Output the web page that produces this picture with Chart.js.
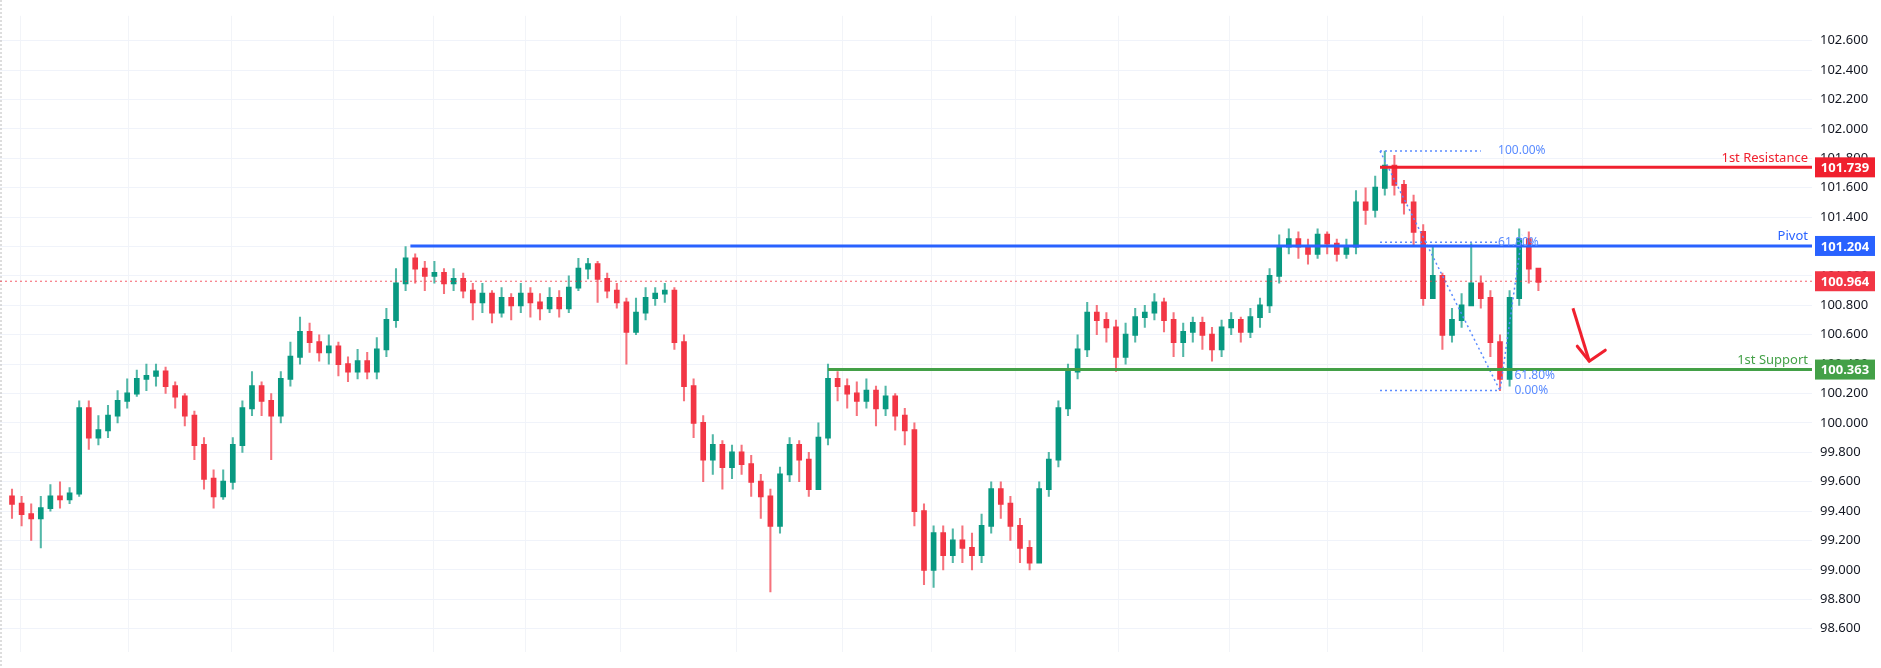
<!DOCTYPE html>
<html>
<head>
<meta charset="utf-8">
<script src="https://cdn.jsdelivr.net/npm/chart.js@4/dist/chart.umd.min.js"></script>
<style>
  html, body { margin: 0; padding: 0; background: #fff; }
  #wrap { width: 1881px; height: 668px; position: relative; }
</style>
</head>
<body>
<div id="wrap"><canvas id="c"></canvas></div>
<script>
// Candles: open is the previous close (first one given separately).
const FIRST_OPEN = 99.5;
const closes = [
  99.45,99.38,99.35,99.42,99.5,99.48,99.52,100.1,99.9,99.95,
  100.05,100.15,100.2,100.3,100.32,100.35,100.25,100.18,100.05,99.85,
  99.62,99.5,99.6,99.85,100.1,100.25,100.15,100.05,100.3,100.45,
  100.62,100.55,100.48,100.52,100.4,100.35,100.42,100.35,100.5,100.7,
  100.95,101.12,101.05,101.0,101.02,100.95,100.98,100.9,100.82,100.88,
  100.75,100.85,100.8,100.88,100.82,100.78,100.85,100.78,100.92,101.05,
  101.08,100.98,100.9,100.82,100.62,100.75,100.85,100.88,100.9,100.55,
  100.25,100.0,99.75,99.85,99.7,99.8,99.72,99.6,99.5,99.3,
  99.65,99.85,99.75,99.55,99.9,100.3,100.25,100.2,100.15,100.22,
  100.1,100.18,100.05,99.95,99.4,99.0,99.25,99.1,99.2,99.15,
  99.1,99.3,99.55,99.45,99.3,99.15,99.05,99.55,99.75,100.1,
  100.35,100.5,100.75,100.7,100.65,100.45,100.6,100.72,100.75,100.82,
  100.7,100.55,100.62,100.68,100.6,100.5,100.65,100.7,100.62,100.72,
  100.8,101.0,101.2,101.25,101.2,101.15,101.28,101.22,101.15,101.2,
  101.5,101.45,101.6,101.75,101.62,101.5,101.3,100.85,101.0,100.6,
  100.7,100.8,100.95,100.85,100.55,100.3,100.85,101.25,101.05,100.96
];
const highs = [
  99.55,99.5,99.45,99.5,99.58,99.6,99.56,100.15,100.15,100.05,
  100.12,100.22,100.3,100.36,100.4,100.4,100.38,100.28,100.2,100.08,
  99.9,99.68,99.68,99.9,100.15,100.35,100.28,100.2,100.35,100.55,
  100.72,100.68,100.6,100.6,100.55,100.45,100.5,100.48,100.58,100.78,
  101.05,101.2,101.15,101.1,101.1,101.05,101.05,101.02,100.95,100.95,
  100.9,100.92,100.88,100.95,100.92,100.88,100.92,100.9,101.0,101.12,
  101.12,101.1,101.02,100.95,100.85,100.85,100.92,100.92,100.95,100.92,
  100.6,100.3,100.05,99.92,99.88,99.85,99.85,99.78,99.65,99.55,
  99.7,99.9,99.88,99.8,100.0,100.4,100.35,100.3,100.28,100.3,
  100.25,100.25,100.2,100.1,100.0,99.45,99.3,99.3,99.28,99.3,
  99.25,99.38,99.6,99.6,99.5,99.35,99.2,99.6,99.8,100.15,
  100.4,100.6,100.82,100.8,100.75,100.7,100.68,100.78,100.8,100.88,
  100.85,100.75,100.68,100.72,100.72,100.65,100.7,100.75,100.72,100.78,
  100.85,101.05,101.28,101.32,101.3,101.25,101.32,101.3,101.25,101.25,
  101.58,101.6,101.68,101.85,101.82,101.65,101.55,101.35,101.2,101.02,
  100.78,100.88,101.22,101.0,100.9,100.6,100.9,101.32,101.3,101.05
];
const lows = [
  99.35,99.3,99.2,99.15,99.4,99.42,99.45,99.5,99.82,99.85,
  99.9,100.0,100.1,100.18,100.22,100.25,100.2,100.1,99.98,99.75,
  99.55,99.42,99.48,99.55,99.8,100.05,100.05,99.75,100.0,100.25,
  100.4,100.48,100.42,100.4,100.32,100.28,100.3,100.3,100.3,100.45,
  100.65,100.9,100.95,100.9,100.95,100.88,100.9,100.85,100.7,100.75,
  100.68,100.72,100.7,100.75,100.72,100.7,100.75,100.72,100.75,100.9,
  100.98,100.82,100.85,100.78,100.4,100.6,100.7,100.8,100.82,100.5,
  100.15,99.9,99.6,99.65,99.55,99.62,99.65,99.5,99.35,98.85,
  99.25,99.6,99.6,99.5,99.55,99.85,100.15,100.1,100.05,100.1,
  99.98,100.05,99.95,99.85,99.3,98.9,98.88,99.0,99.05,99.05,
  99.0,99.05,99.25,99.35,99.2,99.05,99.0,99.05,99.5,99.7,
  100.05,100.3,100.45,100.6,100.55,100.35,100.4,100.55,100.65,100.7,
  100.62,100.45,100.45,100.55,100.5,100.42,100.45,100.6,100.55,100.58,
  100.65,100.75,100.95,101.15,101.12,101.08,101.12,101.15,101.1,101.12,
  101.15,101.35,101.4,101.55,101.55,101.42,101.2,100.8,100.85,100.5,
  100.55,100.65,100.85,100.78,100.45,100.22,100.25,100.8,100.95,100.9
];
const priceTicks = [98.6,98.8,99.0,99.2,99.4,99.6,99.8,100.0,100.2,100.4,100.6,100.8,101.0,101.2,101.4,101.6,101.8,102.0,102.2,102.4,102.6];
// vertical grid (session boundaries) in candle-index units
const timeGrid = [6.5,17.75,27.9,39,48.9,58.1,68.75,82.1,91,100.6,108.5,122.1,131.6,142.5,151.25,159.5];

const RESISTANCE = 101.739, PIVOT = 101.204, LAST = 100.964, SUPPORT = 100.363;
const FIB_HIGH = 101.85, FIB_LOW = 100.22, FIB_618 = 101.23;
const X_MIN = -1.25, X_MAX = 187.5;
const arrowFrom = { x: 162.6, y: 100.78 }, arrowTo = { x: 164.3, y: 100.42 };

const UP = "#089981", DOWN = "#f23645";
const opens = closes.map((c, i) => i === 0 ? FIRST_OPEN : closes[i - 1]);
const colors = closes.map((c, i) => c >= opens[i] ? UP : DOWN);
const bodies = closes.map((c, i) => ({ x: i, y: [Math.min(c, opens[i]) - 0.004, Math.max(c, opens[i]) + 0.004] }));
const wicks = closes.map((c, i) => ({ x: i, y: [lows[i], highs[i]] }));

function hline(y, x0, color, width, dash) {
  return { type: "line", data: [{ x: x0, y }, { x: X_MAX, y }], borderColor: color, borderWidth: width,
    borderDash: dash || [], pointRadius: 0, order: 0 };
}

const overlay = {
  id: "overlay",
  beforeDatasetsDraw(ch) {
    const { ctx } = ch;
    ctx.save();
    ctx.strokeStyle = "#bbb"; ctx.setLineDash([2, 2]); ctx.lineWidth = 1;
    ctx.beginPath(); ctx.moveTo(1, 0); ctx.lineTo(1, 668); ctx.stroke();
    ctx.restore();
  },
  afterDatasetsDraw(ch) {
    const { ctx, scales: { x, y }, chartArea: a } = ch;
    ctx.save();
    // arrow head
    const tx = x.getPixelForValue(arrowTo.x), ty = y.getPixelForValue(arrowTo.y);
    ctx.strokeStyle = "#f0202e"; ctx.lineWidth = 3; ctx.lineCap = "round";
    ctx.beginPath(); ctx.moveTo(tx - 12, ty - 15); ctx.lineTo(tx, ty); ctx.lineTo(tx + 16, ty - 11); ctx.stroke();

    ctx.font = "13px 'Noto Sans', sans-serif";
    ctx.textAlign = "right"; ctx.textBaseline = "bottom";
    const tr = a.right - 4;
    ctx.fillStyle = "#f0202e"; ctx.fillText("1st Resistance", tr, y.getPixelForValue(RESISTANCE) - 3);
    ctx.fillStyle = "#2962ff"; ctx.fillText("Pivot", tr, y.getPixelForValue(PIVOT) - 3);
    ctx.fillStyle = "#43a047"; ctx.fillText("1st Support", tr, y.getPixelForValue(SUPPORT) - 3);

    ctx.font = "12px 'Noto Sans', sans-serif"; ctx.textAlign = "left"; ctx.textBaseline = "middle";
    ctx.fillStyle = "#5b8cff";
    const fx = x.getPixelForValue(154.8);
    ctx.fillText("100.00%", fx, y.getPixelForValue(FIB_HIGH));
    ctx.fillText("61.80%", fx, y.getPixelForValue(FIB_618));
    ctx.fillText("61.80%", x.getPixelForValue(156.5), y.getPixelForValue(100.32));
    ctx.fillText("0.00%", x.getPixelForValue(156.5), y.getPixelForValue(FIB_LOW));

    // right-axis price tags
    const tags = [[RESISTANCE, "#f0202e"], [PIVOT, "#2962ff"], [LAST, "#f23645"], [SUPPORT, "#43a047"]];
    ctx.font = "bold 13px 'Noto Sans', sans-serif"; ctx.textAlign = "center";
    for (const [v, c] of tags) {
      const py = y.getPixelForValue(v);
      ctx.fillStyle = c;
      ctx.fillRect(a.right + 3, py - 10, 60, 20);
      ctx.fillStyle = "#fff";
      ctx.fillText(v.toFixed(3), a.right + 33, py + 1);
    }
    ctx.restore();
  }
};

new Chart(document.getElementById("c"), {
  data: {
    datasets: [
      { type: "bar", data: wicks, backgroundColor: colors.map(c => c === UP ? "rgba(8,153,129,0.7)" : "rgba(242,54,69,0.7)"),
        barThickness: 1.4, grouped: false, order: 3 },
      { type: "bar", data: bodies, backgroundColor: colors, barThickness: 5, grouped: false, order: 2 },
      hline(LAST, X_MIN, "rgba(242,54,69,0.8)", 1, [2, 3]),
      hline(PIVOT, 41.5, "#2962ff", 3),
      hline(SUPPORT, 85, "#43a047", 3),
      hline(RESISTANCE, 142.5, "#f0202e", 3),
      { type: "line", data: [{ x: 142.5, y: FIB_HIGH }, { x: 153, y: FIB_HIGH }], borderColor: "#5b8cff", borderWidth: 1.5, borderDash: [2, 3], pointRadius: 0 },
      { type: "line", data: [{ x: 142.5, y: FIB_618 }, { x: 155, y: FIB_618 }], borderColor: "#5b8cff", borderWidth: 1.5, borderDash: [2, 3], pointRadius: 0 },
      { type: "line", data: [{ x: 142.5, y: FIB_LOW }, { x: 155, y: FIB_LOW }], borderColor: "#5b8cff", borderWidth: 1.5, borderDash: [2, 3], pointRadius: 0 },
      { type: "line", data: [{ x: 142.5, y: FIB_HIGH }, { x: 155, y: FIB_LOW }, { x: 157.3, y: 101.28 }], borderColor: "#5b8cff", borderWidth: 1.5, borderDash: [2, 3], pointRadius: 0, tension: 0 },
      { type: "line", data: [arrowFrom, arrowTo], borderColor: "#f0202e", borderWidth: 3, pointRadius: 0 }
    ]
  },
  options: {
    responsive: true, maintainAspectRatio: false, animation: false,
    layout: { padding: 0 },
    plugins: { legend: { display: false }, tooltip: { enabled: false } },
    scales: {
      x: {
        type: "linear", min: X_MIN, max: X_MAX, offset: false,
        afterBuildTicks: (s) => { s.ticks = timeGrid.map(v => ({ value: v })); },
        ticks: { display: false },
        grid: { color: "#f2f4f8", drawTicks: false },
        border: { display: false }
      },
      y: {
        position: "right", min: 98.44, max: 102.77,
        afterBuildTicks: (s) => { s.ticks = priceTicks.map(v => ({ value: v })); },
        afterFit: (s) => { s.width = 69; },
        ticks: { color: "#131722", font: { size: 13, family: "'Noto Sans', sans-serif" }, padding: 8,
          callback: (v) => Number(v).toFixed(3) },
        grid: { color: "#f0f3fa", drawTicks: false },
        border: { display: false }
      }
    }
  },
  plugins: [overlay]
});
</script>
</body>
</html>
